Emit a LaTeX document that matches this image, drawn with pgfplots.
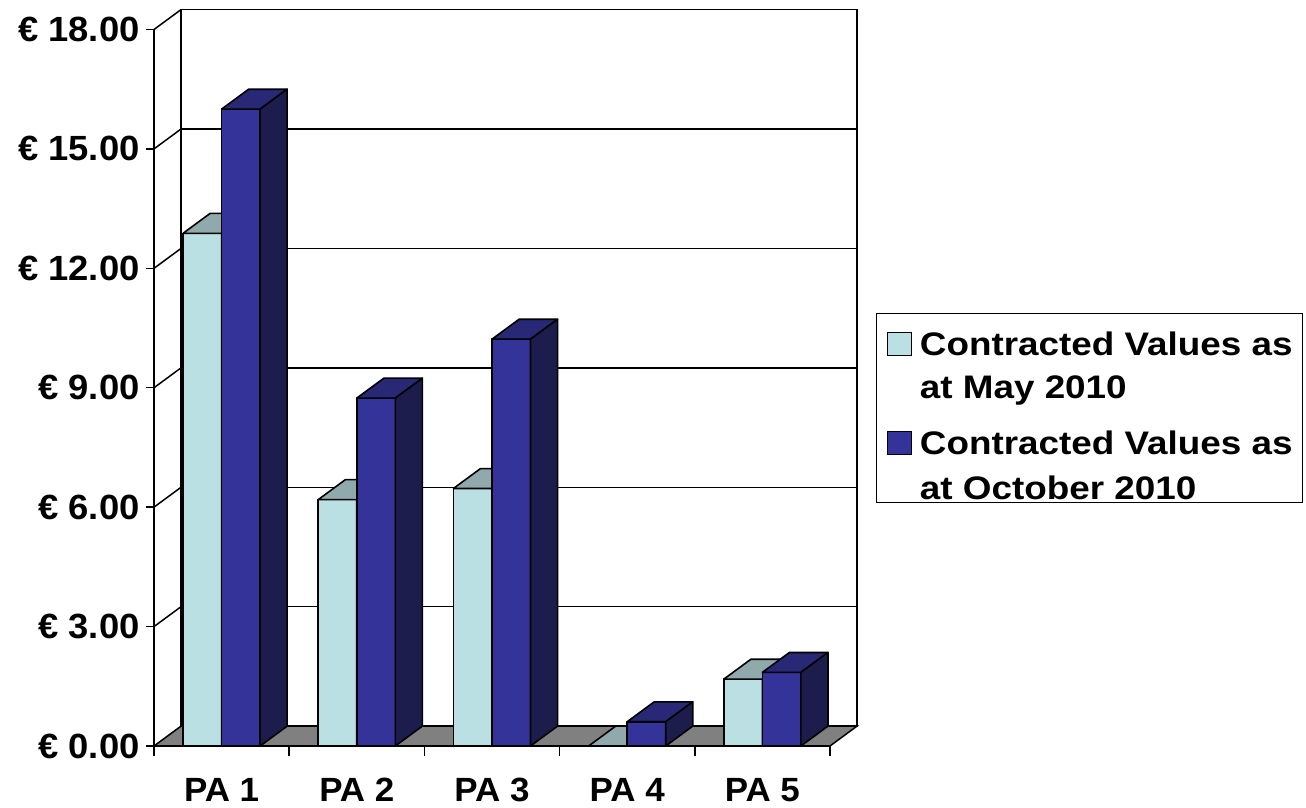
\documentclass[border=0pt]{standalone}
\usepackage{pgfplots}
\pgfplotsset{compat=1.18}
\usepackage{fontspec}
\setmainfont{Liberation Sans}
\newfontfamily\legendfont[FakeStretch=1.13]{Liberation Sans}
\newfontfamily\tickfont[FakeStretch=1.04]{Liberation Sans}
\definecolor{lightfront}{RGB}{187,224,227}
\definecolor{lighttop}{RGB}{143,169,172}
\definecolor{lightside}{RGB}{96,118,120}
\definecolor{darkfront}{RGB}{51,51,153}
\definecolor{darktop}{RGB}{40,40,118}
\definecolor{darkside}{RGB}{29,29,77}
\definecolor{floorgray}{RGB}{128,128,128}

\begin{document}
\begin{tikzpicture}
\begin{axis}[
  at={(0,0)}, anchor=south west,
  scale only axis, width=338pt, height=358.25pt,
  xmin=0, xmax=5, ymin=0, ymax=18,
  clip=false,
  axis x line*=bottom, axis y line*=left,
  axis line style={-, line width=0.75pt, black},
  tick align=outside,
  major tick length=4pt, minor tick length=5pt,
  ytick={0,3,...,18},
  yticklabels={€ 0.00,€ 3.00,€ 6.00,€ 9.00,€ 12.00,€ 15.00,€ 18.00},
  xtick={0.5,1.5,2.5,3.5,4.5},
  xticklabels={PA 1,PA 2,PA 3,PA 4,PA 5},
  minor xtick={0,1,2,3,4,5},
  major x tick style={draw=none},
  minor x tick style={line width=0.75pt, black},
  y tick style={line width=0.75pt, black},
  xticklabel style={font=\tickfont\bfseries\fontsize{16.8}{20}\selectfont, inner ysep=12pt},
  yticklabel style={font=\tickfont\bfseries\fontsize{17.5}{21}\selectfont, inner xsep=3pt},
  legend style={at={(1.068,0.6047)}, anchor=north west, draw=black, line width=0.75pt,
    inner xsep=5pt, inner ysep=0pt, row sep=0pt, column sep=4pt,
    font=\legendfont\bfseries\fontsize{16.3}{20}\selectfont,
    nodes={inner xsep=0pt, inner ysep=0pt},
    cells={anchor=base west}},
]
% floor
\draw[line width=0.75pt, fill=floorgray] (axis cs:0,0) -- (axis cs:5,0) -- (axis cs:5.2,0.5) -- (axis cs:0.2,0.5) -- cycle;
% back wall
\draw[line width=0.75pt] (axis cs:0.2,0.5) rectangle (axis cs:5.2,18.5);
\draw[line width=0.75pt] (axis cs:0.2,3.5) -- (axis cs:5.2,3.5);
\draw[line width=0.75pt] (axis cs:0.2,6.5) -- (axis cs:5.2,6.5);
\draw[line width=0.75pt] (axis cs:0.2,9.5) -- (axis cs:5.2,9.5);
\draw[line width=0.75pt] (axis cs:0.2,12.5) -- (axis cs:5.2,12.5);
\draw[line width=0.75pt] (axis cs:0.2,15.5) -- (axis cs:5.2,15.5);
% left wall diagonals
\draw[line width=0.75pt] (axis cs:0,3) -- (axis cs:0.2,3.5);
\draw[line width=0.75pt] (axis cs:0,6) -- (axis cs:0.2,6.5);
\draw[line width=0.75pt] (axis cs:0,9) -- (axis cs:0.2,9.5);
\draw[line width=0.75pt] (axis cs:0,12) -- (axis cs:0.2,12.5);
\draw[line width=0.75pt] (axis cs:0,15) -- (axis cs:0.2,15.5);
\draw[line width=0.75pt] (axis cs:0,18) -- (axis cs:0.2,18.5);

% May 2010 bars
\addplot[forget plot, scatter, only marks, mark=*, mark size=0pt,
  mark options={draw=none, fill=none},
  visualization depends on={rawy \as \barv},
  scatter/@pre marker code/.code={%
    \pgfmathsetmacro\negv{-\barv}%
    \pgfmathsetmacro\sidev{0.5-\barv}%
    \filldraw[fill=lightfront, draw=black, line width=0.8pt, line join=round]
      (axis direction cs:-0.285,\negv) rectangle (axis direction cs:0,0);
    \filldraw[fill=lighttop, draw=black, line width=0.8pt, line join=round]
      (axis direction cs:-0.285,0) -- (axis direction cs:0,0) -- (axis direction cs:0.2,0.5) -- (axis direction cs:-0.085,0.5) -- cycle;
    \filldraw[fill=lightside, draw=black, line width=0.8pt, line join=round]
      (axis direction cs:0,0) -- (axis direction cs:0,\negv) -- (axis direction cs:0.2,\sidev) -- (axis direction cs:0.2,0.5) -- cycle;
  },
  scatter/@post marker code/.code={},
] coordinates {(0.5,12.88) (1.5,6.19) (2.5,6.47) (3.5,0) (4.5,1.68)};

% October 2010 bars
\addplot[forget plot, scatter, only marks, mark=*, mark size=0pt,
  mark options={draw=none, fill=none},
  visualization depends on={rawy \as \barv},
  scatter/@pre marker code/.code={%
    \pgfmathsetmacro\negv{-\barv}%
    \pgfmathsetmacro\sidev{0.5-\barv}%
    \filldraw[fill=darkfront, draw=black, line width=0.8pt, line join=round]
      (axis direction cs:0,\negv) rectangle (axis direction cs:0.285,0);
    \filldraw[fill=darktop, draw=black, line width=0.8pt, line join=round]
      (axis direction cs:0,0) -- (axis direction cs:0.285,0) -- (axis direction cs:0.485,0.5) -- (axis direction cs:0.2,0.5) -- cycle;
    \filldraw[fill=darkside, draw=black, line width=0.8pt, line join=round]
      (axis direction cs:0.285,0) -- (axis direction cs:0.285,\negv) -- (axis direction cs:0.485,\sidev) -- (axis direction cs:0.485,0.5) -- cycle;
  },
  scatter/@post marker code/.code={},
] coordinates {(0.5,16.0) (1.5,8.74) (2.5,10.22) (3.5,0.61) (4.5,1.85)};

\addlegendimage{legend image code/.code={\draw[fill=lightfront, draw=black, line width=0.6pt] (0pt,0pt) rectangle (12pt,11.6pt);}}
\addlegendentry{\rule[-5pt]{0pt}{26pt}Contracted Values as}
\addlegendimage{empty legend}
\addlegendentry{\rule[-5pt]{0pt}{25pt}at May 2010}
\addlegendimage{legend image code/.code={\draw[fill=darkfront, draw=black, line width=0.6pt] (0pt,0pt) rectangle (12pt,11.6pt);}}
\addlegendentry{\rule[-5pt]{0pt}{31.5pt}Contracted Values as}
\addlegendimage{empty legend}
\addlegendentry{\rule[-9.5pt]{0pt}{30.5pt}at October 2010}
\end{axis}
\pgfresetboundingbox
\path[use as bounding box] (-77pt,-31pt) rectangle (576pt,373pt);
\end{tikzpicture}
\end{document}
